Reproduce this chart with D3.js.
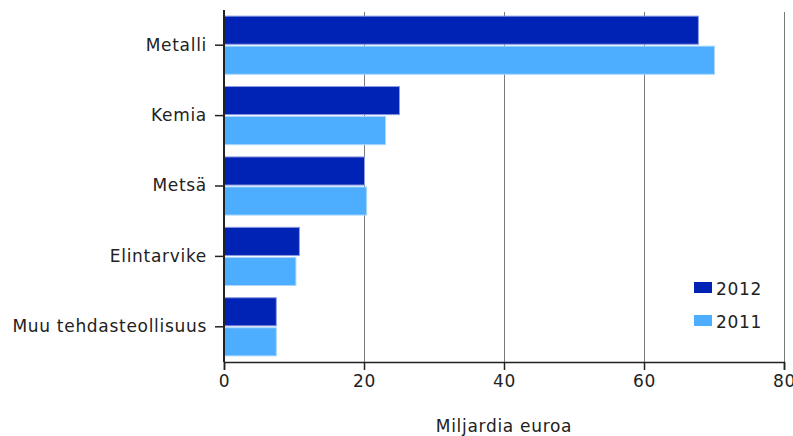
<!DOCTYPE html>
<html>
<head>
<meta charset="utf-8">
<script src="https://cdn.jsdelivr.net/npm/d3@7"></script>
<style>
  body { margin: 0; background: #fff; }
  svg text { font-family: "DejaVu Sans", sans-serif; fill: #222; letter-spacing: 0.7px; }
</style>
</head>
<body>
<div id="chart"></div>
<script>
// data (billion euros)
const categories = ['Metalli', 'Kemia', 'Metsä', 'Elintarvike', 'Muu tehdasteollisuus']
const years = ['2012', '2011']
const values2012 = [67.7, 25.0, 20.0, 10.7, 7.4]
const values2011 = [70.0, 23.0, 20.3, 10.2, 7.4]
const xTicks = [0, 20, 40, 60, 80]
const colors = { '2012': '#0022b5', '2011': '#4dadff' }
const strokes = { '2012': '#8c9be0', '2011': '#a8d6ff' }

const width = 793, height = 436
const margin = { top: 10, right: 9, bottom: 74, left: 224 }
const w = width - margin.left - margin.right
const h = height - margin.top - margin.bottom

const rows = categories.map((c, i) => ({ cat: c, '2012': values2012[i], '2011': values2011[i] }))

const svg = d3.select('#chart').append('svg')
    .attr('width', width)
    .attr('height', height)

const g = svg.append('g')
    .attr('transform', 'translate(' + margin.left + ',' + margin.top + ')')

const x = d3.scaleLinear().domain([0, 80]).range([0, w])
const y0 = d3.scaleBand().domain(categories).range([0, h]).paddingInner(0.16).paddingOuter(0.08)
const y1 = d3.scaleBand().domain(years).range([0, y0.bandwidth()]).paddingInner(0.03)

// grid lines
g.selectAll('line.grid')
    .data(xTicks.slice(1))
    .enter().append('line')
    .attr('class', 'grid')
    .attr('x1', d => x(d) + 0.5).attr('x2', d => x(d) + 0.5)
    .attr('y1', 2).attr('y2', h)
    .attr('stroke', '#7a7a7a')
    .attr('stroke-width', 1)

// bars
const groups = g.selectAll('g.cat')
    .data(rows)
    .enter().append('g')
    .attr('class', 'cat')
    .attr('transform', d => 'translate(0,' + y0(d.cat) + ')')

groups.selectAll('rect')
    .data(d => years.map(yr => ({ yr, v: d[yr] })))
    .enter().append('rect')
    .attr('x', 0.5)
    .attr('y', d => y1(d.yr) + 0.5)
    .attr('width', d => x(d.v))
    .attr('height', d => y1.bandwidth() - 1)
    .attr('fill', d => colors[d.yr])
    .attr('stroke', d => strokes[d.yr])
    .attr('stroke-width', 1)

// x axis
const xAxis = g.append('g')
    .attr('transform', 'translate(0,' + h + ')')
    .call(d3.axisBottom(x).tickValues(xTicks).tickSize(8).tickPadding(5))
xAxis.select('.domain').attr('stroke', '#222').attr('stroke-width', 1.5)
xAxis.selectAll('.tick line').attr('stroke', '#222').attr('stroke-width', 1.5)
xAxis.selectAll('text').style('font-size', '17px').style('font-family', '"DejaVu Sans", sans-serif').attr('fill', '#222')

// y axis
const yAxis = g.append('g')
    .call(d3.axisLeft(y0).tickSize(9).tickPadding(8))
yAxis.select('.domain').attr('stroke', '#222').attr('stroke-width', 2).attr('d', 'M0,0V' + h)
yAxis.selectAll('.tick line').attr('stroke', '#222').attr('stroke-width', 1.5)
yAxis.selectAll('text').style('font-size', '17px').style('font-family', '"DejaVu Sans", sans-serif').attr('fill', '#222')

// axis title
svg.append('text')
    .attr('x', margin.left + w / 2)
    .attr('y', 432)
    .attr('text-anchor', 'middle')
    .style('font-size', '17px')
    .text('Miljardia euroa')

// legend
const legend = svg.append('g').attr('transform', 'translate(694,282)')
years.forEach((yr, i) => {
    const row = legend.append('g').attr('transform', 'translate(0,' + (i * 33) + ')')
    row.append('rect').attr('width', 18).attr('height', 11).attr('fill', colors[yr])
    row.append('text').attr('x', 22).attr('y', 13).style('font-size', '17px').text(yr)
})
</script>
</body>
</html>
